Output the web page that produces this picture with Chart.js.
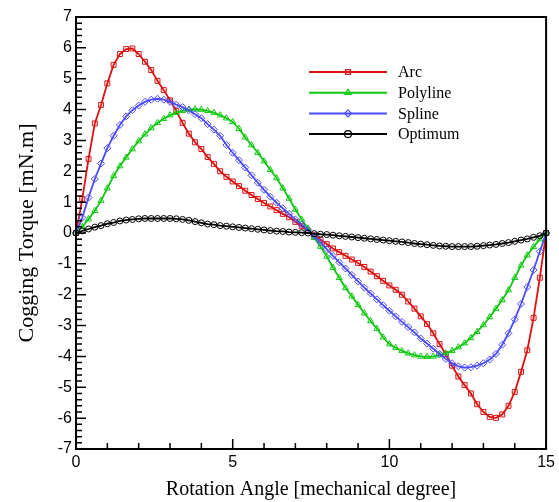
<!DOCTYPE html>
<html>
<head>
<meta charset="utf-8">
<script src="https://cdn.jsdelivr.net/npm/chart.js@4.4.1/dist/chart.umd.min.js"></script>
<style>
  html, body { margin: 0; padding: 0; background: #fff; }
  #wrap { width: 559px; height: 502px; }
</style>
</head>
<body>
<div id="wrap"><canvas id="torqueChart" width="559" height="502"></canvas></div>
<script>
// rotation angle [mechanical degree], sampled every 0.2
const angles = [0, 0.2, 0.4, 0.6, 0.8, 1, 1.2, 1.4, 1.6, 1.8, 2, 2.2, 2.4, 2.6, 2.8, 3, 3.2, 3.4, 3.6, 3.8,
  4, 4.2, 4.4, 4.6, 4.8, 5, 5.2, 5.4, 5.6, 5.8, 6, 6.2, 6.4, 6.6, 6.8, 7, 7.2, 7.4, 7.6, 7.8,
  8, 8.2, 8.4, 8.6, 8.8, 9, 9.2, 9.4, 9.6, 9.8, 10, 10.2, 10.4, 10.6, 10.8, 11, 11.2, 11.4, 11.6, 11.8,
  12, 12.2, 12.4, 12.6, 12.8, 13, 13.2, 13.4, 13.6, 13.8, 14, 14.2, 14.4, 14.6, 14.8, 15];

const arc = [0, 1.1, 2.4, 3.55, 4.15, 4.85, 5.45, 5.8, 5.96, 5.98, 5.8, 5.55, 5.28, 4.93, 4.63, 4.3, 3.95, 3.57, 3.22, 2.94,
  2.72, 2.46, 2.24, 2.0, 1.82, 1.67, 1.52, 1.37, 1.23, 1.1, 0.97, 0.86, 0.74, 0.62, 0.51, 0.36, 0.22, 0.08,
  -0.08, -0.22, -0.36, -0.5, -0.62, -0.74, -0.86, -0.97, -1.1, -1.25, -1.4, -1.55, -1.7, -1.84, -2.0, -2.22,
  -2.45, -2.7, -2.95, -3.25, -3.6, -3.93, -4.3, -4.65, -4.93, -5.2, -5.55, -5.8, -5.96, -5.99, -5.88, -5.6,
  -5.15, -4.5, -3.8, -2.75, -1.45, 0];

const polyline = [0, 0.2, 0.45, 0.72, 1.05, 1.45, 1.85, 2.17, 2.45, 2.72, 2.98, 3.2, 3.4, 3.57, 3.7, 3.82, 3.9, 3.96, 4.0, 4.01,
  4.0, 3.96, 3.9, 3.82, 3.72, 3.6, 3.38, 3.1, 2.85, 2.6, 2.33, 2.05, 1.78, 1.45, 1.12, 0.76, 0.44, 0.15,
  -0.15, -0.44, -0.76, -1.12, -1.45, -1.78, -2.05, -2.33, -2.6, -2.85, -3.1, -3.38, -3.6, -3.72, -3.82, -3.9,
  -3.96, -4.0, -4.01, -4.0, -3.96, -3.9, -3.82, -3.7, -3.57, -3.4, -3.2, -2.98, -2.72, -2.45, -2.17, -1.85,
  -1.45, -1.05, -0.72, -0.45, -0.2, 0];

const spline = [0, 0.5, 1.15, 1.75, 2.25, 2.75, 3.15, 3.5, 3.78, 3.98, 4.13, 4.25, 4.32, 4.35, 4.32, 4.25, 4.16, 4.08, 3.98, 3.85,
  3.72, 3.53, 3.35, 3.15, 2.85, 2.6, 2.36, 2.12, 1.87, 1.63, 1.4, 1.18, 0.98, 0.8, 0.62, 0.44, 0.27, 0.1,
  -0.1, -0.3, -0.52, -0.74, -0.95, -1.15, -1.36, -1.57, -1.77, -1.96, -2.15, -2.34, -2.52, -2.7, -2.88, -3.05,
  -3.22, -3.42, -3.58, -3.75, -3.92, -4.08, -4.22, -4.32, -4.36, -4.35, -4.3, -4.22, -4.1, -3.92, -3.62, -3.25,
  -2.8, -2.3, -1.75, -1.2, -0.6, 0];

const optimum = [0, 0.07, 0.13, 0.19, 0.24, 0.3, 0.34, 0.39, 0.42, 0.44, 0.46, 0.47, 0.47, 0.47, 0.47, 0.47, 0.46, 0.44, 0.41, 0.37,
  0.33, 0.29, 0.27, 0.24, 0.22, 0.2, 0.18, 0.16, 0.14, 0.12, 0.1, 0.08, 0.06, 0.05, 0.03, 0.02, 0.01, 0,
  -0.02, -0.04, -0.05, -0.07, -0.09, -0.11, -0.13, -0.15, -0.17, -0.19, -0.21, -0.23, -0.25, -0.27, -0.29, -0.31,
  -0.34, -0.36, -0.38, -0.4, -0.42, -0.43, -0.44, -0.44, -0.44, -0.44, -0.43, -0.41, -0.39, -0.37, -0.34, -0.31,
  -0.27, -0.23, -0.19, -0.14, -0.09, 0];

const seriesNames = ["Arc", "Polyline", "Spline", "Optimum"];
const seriesColors = ["#dd1010", "#10c810", "#4a4aff", "#000000"];
const seriesMarkers = ["rect", "triangle", "rectRot", "circle"];
const seriesValues = [arc, polyline, spline, optimum];

const xTicks = [0, 5, 10, 15];
const yTicks = [-7, -6, -5, -4, -3, -2, -1, 0, 1, 2, 3, 4, 5, 6, 7];

function toPoints(values) {
  return values.map((v, i) => ({ x: angles[i], y: v }));
}

function drawMarker(ctx, style, x, y, r) {
  ctx.beginPath();
  if (style === "rect") {
    const s = r * Math.SQRT1_2;
    ctx.rect(x - s, y - s, 2 * s, 2 * s);
  } else if (style === "rectRot") {
    ctx.moveTo(x, y - r); ctx.lineTo(x + r, y); ctx.lineTo(x, y + r); ctx.lineTo(x - r, y); ctx.closePath();
  } else if (style === "triangle") {
    ctx.moveTo(x, y - r); ctx.lineTo(x + r * 0.866, y + r * 0.5); ctx.lineTo(x - r * 0.866, y + r * 0.5); ctx.closePath();
  } else {
    ctx.arc(x, y, r, 0, Math.PI * 2);
  }
  ctx.stroke();
}

// box frame, inward ticks and the legend
const framePlugin = {
  id: "frame",
  afterDatasetsDraw(chart) {
    const { ctx, chartArea: a, scales: { x, y } } = chart;
    ctx.save();
    ctx.strokeStyle = "#000";
    ctx.lineWidth = 2;
    ctx.strokeRect(a.left, a.top, a.right - a.left, a.bottom - a.top);

    ctx.lineWidth = 1.5;
    ctx.beginPath();
    for (let v = 0; v <= 15; v++) {
      const px = x.getPixelForValue(v);
      const len = v % 5 === 0 ? 10 : 6;
      ctx.moveTo(px, a.bottom);
      ctx.lineTo(px, a.bottom - len);
    }
    for (let i = -35; i <= 35; i++) {
      const py = y.getPixelForValue(i / 5);
      const len = i % 5 === 0 ? 10 : 6;
      ctx.moveTo(a.left, py);
      ctx.lineTo(a.left + len, py);
    }
    ctx.stroke();

    // legend
    ctx.font = "16px 'Liberation Serif'";
    ctx.textBaseline = "middle";
    ctx.fillStyle = "#000";
    seriesNames.forEach((name, i) => {
      const ly = 72 + i * 20.7;
      ctx.strokeStyle = seriesColors[i];
      ctx.lineWidth = 2;
      ctx.beginPath();
      ctx.moveTo(309, ly);
      ctx.lineTo(387, ly);
      ctx.stroke();
      ctx.lineWidth = 1.2;
      drawMarker(ctx, seriesMarkers[i], 348, ly, 3.5);
      ctx.fillText(name, 398, ly + 1);
    });
    ctx.restore();
  }
};

new Chart(document.getElementById("torqueChart"), {
  type: "line",
  data: {
    datasets: seriesNames.map((name, i) => ({
      label: name,
      data: toPoints(seriesValues[i]),
      borderColor: seriesColors[i],
      borderWidth: 1.8,
      pointStyle: seriesMarkers[i],
      pointRadius: seriesMarkers[i] === "circle" ? 3 : 3.5,
      pointBorderWidth: 1,
      pointBorderColor: seriesColors[i],
      pointBackgroundColor: "rgba(0,0,0,0)",
      tension: 0,
      clip: false,
      order: 4 - i
    }))
  },
  options: {
    responsive: false,
    animation: false,
    devicePixelRatio: 1,
    layout: { padding: { top: 17, right: 8, left: 0, bottom: 0 } },
    plugins: {
      legend: { display: false },
      tooltip: { enabled: false }
    },
    scales: {
      x: {
        type: "linear",
        min: 0,
        max: 15,
        afterBuildTicks(scale) { scale.ticks = xTicks.map(v => ({ value: v })); },
        afterFit(scale) { scale.height = 53; },
        ticks: { color: "#000", font: { family: "'Liberation Sans'", size: 16 }, padding: 4, maxRotation: 0 },
        grid: { display: false, drawTicks: false },
        border: { display: false },
        title: {
          display: true,
          text: "Rotation Angle [mechanical degree]",
          color: "#000",
          font: { family: "'Liberation Serif'", size: 20 },
          padding: { top: 0, bottom: 0 }
        }
      },
      y: {
        min: -7,
        max: 7,
        afterBuildTicks(scale) { scale.ticks = yTicks.map(v => ({ value: v })); },
        afterFit(scale) { scale.width = 76; },
        ticks: { color: "#000", font: { family: "'Liberation Sans'", size: 16 }, padding: 4 },
        grid: { display: false, drawTicks: false },
        border: { display: false },
        title: {
          display: true,
          text: "Cogging Torque [mN.m]",
          color: "#000",
          font: { family: "'Liberation Serif'", size: 22 },
          padding: { top: 14, bottom: 0 }
        }
      }
    }
  },
  plugins: [framePlugin]
});
</script>
</body>
</html>
